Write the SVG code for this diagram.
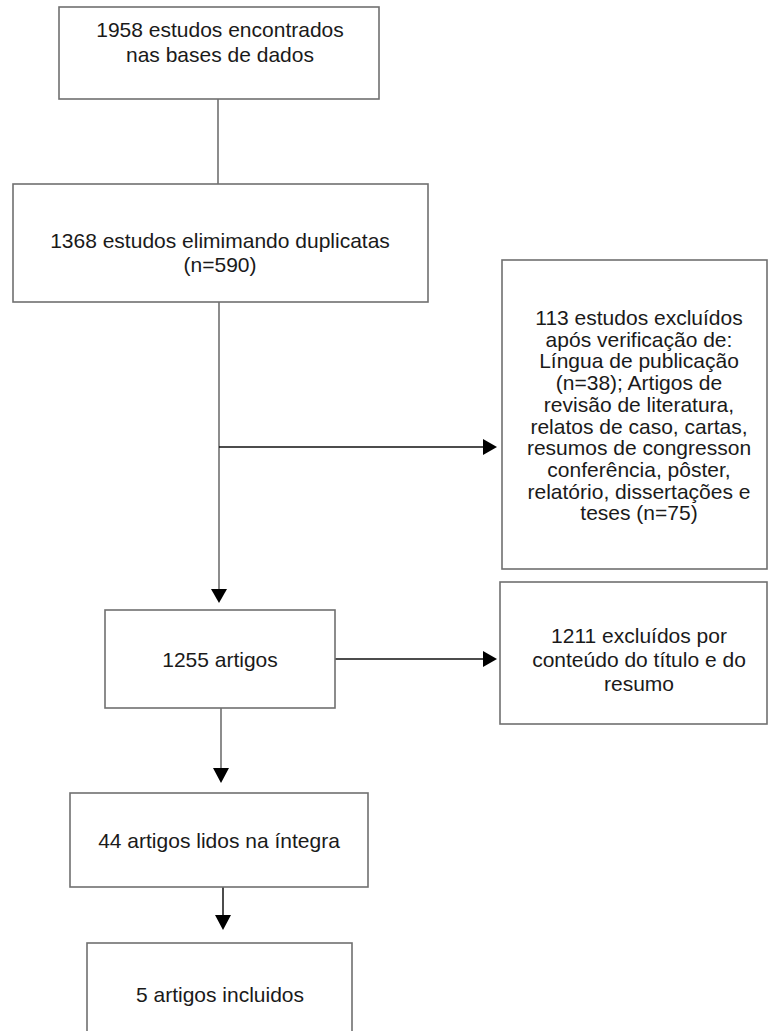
<svg xmlns="http://www.w3.org/2000/svg" width="768" height="1031" viewBox="0 0 768 1031">
<style>
.box{fill:#fff;stroke:#707070;stroke-width:1.6}
.t{font-family:"Liberation Sans",Arial,sans-serif;font-size:21px;fill:#1a1a1a;text-anchor:middle}
.ln{stroke:#707070;stroke-width:1.6;fill:none}
.lk{stroke:#111;stroke-width:1.5;fill:none}
.ah{fill:#000}
</style>
<rect width="768" height="1031" fill="#fff"/>
<g id="connectors">
<line class="ln" x1="218" y1="99" x2="218" y2="184"/>
<line class="ln" x1="219" y1="302" x2="219" y2="590"/>
<polygon class="ah" points="211,589 227,589 219,603"/>
<line class="lk" x1="219" y1="447" x2="484" y2="447"/>
<polygon class="ah" points="483,439 483,455 497,447"/>
<line class="lk" x1="335" y1="659" x2="484" y2="659"/>
<polygon class="ah" points="483,651 483,667 497,659"/>
<line class="ln" x1="221" y1="708" x2="221" y2="769"/>
<polygon class="ah" points="213,768 229,768 221,783"/>
<line class="lk" x1="223" y1="887" x2="223" y2="916"/>
<polygon class="ah" points="215,915 231,915 223,930"/>
</g>
<g id="n1">
<rect class="box" x="59" y="7" width="320" height="92"/>
<text class="t" x="220" y="37">1958 estudos encontrados</text>
<text class="t" x="220" y="62">nas bases de dados</text>
</g>
<g id="n2">
<rect class="box" x="13" y="184" width="415" height="118"/>
<text class="t" x="220" y="248">1368 estudos elimimando duplicatas</text>
<text class="t" x="220" y="272">(n=590)</text>
</g>
<g id="n3">
<rect class="box" x="502" y="260" width="265" height="309"/>
<text class="t" x="639" y="325">113 estudos excluídos</text>
<text class="t" x="639" y="346.7">após verificação de:</text>
<text class="t" x="639" y="368.4">Língua de publicação</text>
<text class="t" x="639" y="390.1">(n=38); Artigos de</text>
<text class="t" x="639" y="411.8">revisão de literatura,</text>
<text class="t" x="639" y="433.5">relatos de caso, cartas,</text>
<text class="t" x="639" y="455.2">resumos de congresson</text>
<text class="t" x="639" y="476.9">conferência, pôster,</text>
<text class="t" x="639" y="498.6">relatório, dissertações e</text>
<text class="t" x="639" y="520.3">teses (n=75)</text>
</g>
<g id="n4">
<rect class="box" x="105" y="610" width="230" height="98"/>
<text class="t" x="220" y="667">1255 artigos</text>
</g>
<g id="n5">
<rect class="box" x="500" y="582" width="267" height="142"/>
<text class="t" x="639" y="643">1211 excluídos por</text>
<text class="t" x="639" y="667">conteúdo do título e do</text>
<text class="t" x="639" y="691">resumo</text>
</g>
<g id="n6">
<rect class="box" x="70" y="793" width="298" height="94"/>
<text class="t" x="219" y="848">44 artigos lidos na íntegra</text>
</g>
<g id="n7">
<rect class="box" x="87" y="943" width="265" height="100"/>
<text class="t" x="220" y="1002">5 artigos incluidos</text>
</g>
</svg>
